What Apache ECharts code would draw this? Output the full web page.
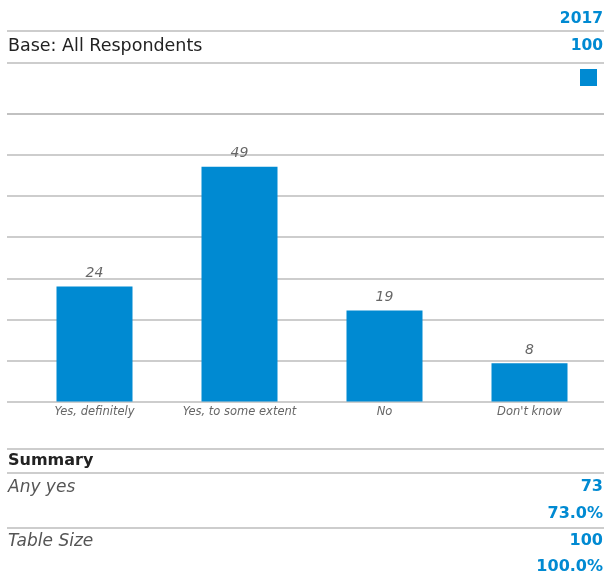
<!DOCTYPE html>
<html><head><meta charset="utf-8">
<script src="https://cdn.jsdelivr.net/npm/echarts@6/dist/echarts.min.js"></script>
<style>html,body{margin:0;padding:0;background:#fff}#c{width:606px;height:576px}</style>
</head><body><div id="c"></div>
<script>
// ---- data ----
const categories = ['Yes, definitely', 'Yes, to some extent', 'No', "Don't know"];
const values2017 = [24, 49, 19, 8];
const seriesName = '2017';
const baseLabel = 'Base: All Respondents';
const baseValue = 100;
const summaryTitle = 'Summary';
const summaryLabels = ['Any yes', 'Table Size'];
const summaryCounts = [73, 100];
const summaryPcts = ['73.0%', '100.0%'];
const yMax = 60;
const ySteps = 7;

// ---- styles ----
const BLUE = '#008AD2';
const LINE = '#BDBDBD';
const FONT = '"DejaVu Sans", sans-serif';
const L = 7, R = 603;

function hline(y) {
  return { type: 'line', shape: { x1: L, y1: y, x2: R + 1, y2: y }, style: { stroke: LINE, lineWidth: 1.5 }, silent: true };
}
function txt(text, x, y, opt) {
  return { type: 'text', x: x, y: y, silent: true, style: Object.assign({ text: String(text), verticalAlign: 'middle', font: '16px ' + FONT, fill: '#222' }, opt) };
}

const graphics = [
  txt(seriesName, R, 19, { align: 'right', fill: BLUE, font: 'bold 15.5px ' + FONT }),
  hline(31),
  txt(baseLabel, 8, 46, { align: 'left', fill: '#222', font: '17.5px ' + FONT }),
  txt(baseValue, R, 46, { align: 'right', fill: BLUE, font: 'bold 15.5px ' + FONT }),
  hline(63),
  hline(449),
  txt(summaryTitle, 8, 461, { align: 'left', fill: '#222', font: 'bold 16px ' + FONT }),
  hline(473)
];
const rowY = [488, 542];
const pctY = [515, 568];
summaryLabels.forEach((lab, i) => {
  graphics.push(txt(lab, 8, rowY[i], { align: 'left', fill: '#555', font: 'italic 17px ' + FONT }));
  graphics.push(txt(summaryCounts[i], R, rowY[i] - 1, { align: 'right', fill: BLUE, font: 'bold 16px ' + FONT }));
  graphics.push(txt(summaryPcts[i], R, pctY[i] - 1, { align: 'right', fill: BLUE, font: 'bold 16px ' + FONT }));
});
graphics.push(hline(528));

const chart = echarts.init(document.getElementById('c'), null, { renderer: 'canvas' });
chart.setOption({
  animation: false,
  backgroundColor: '#fff',
  legend: {
    data: [seriesName], right: 9, top: 69, itemWidth: 17, itemHeight: 17, icon: 'rect',
    formatter: () => '', selectedMode: false, padding: 0
  },
  grid: [
    { left: L, right: 606 - R - 1, top: 114, bottom: 174.5 },
    { left: 22, width: 580, top: 114, bottom: 174.5 }
  ],
  xAxis: [
    { gridIndex: 0, type: 'category', data: categories, show: false },
    { gridIndex: 1, type: 'category', data: categories,
      axisLine: { show: false }, axisTick: { show: false },
      axisLabel: { interval: 0, hideOverlap: false, margin: 5, fontFamily: FONT, fontStyle: 'italic', fontSize: 11.5, color: '#666' } }
  ],
  yAxis: [
    { gridIndex: 0, type: 'value', min: 0, max: yMax, interval: yMax / ySteps,
      axisLabel: { show: false }, axisLine: { show: false }, axisTick: { show: false },
      splitLine: { lineStyle: { color: LINE, width: 1.5 } } },
    { gridIndex: 1, type: 'value', min: 0, max: yMax, show: false, splitLine: { show: false } }
  ],
  series: [{
    name: seriesName, type: 'bar', xAxisIndex: 1, yAxisIndex: 1,
    data: values2017, barWidth: 76, itemStyle: { color: BLUE },
    label: { show: true, position: 'top', distance: 6, fontFamily: FONT, fontStyle: 'italic', fontSize: 14, color: '#666' }
  }],
  graphic: graphics
});
</script></body></html>
